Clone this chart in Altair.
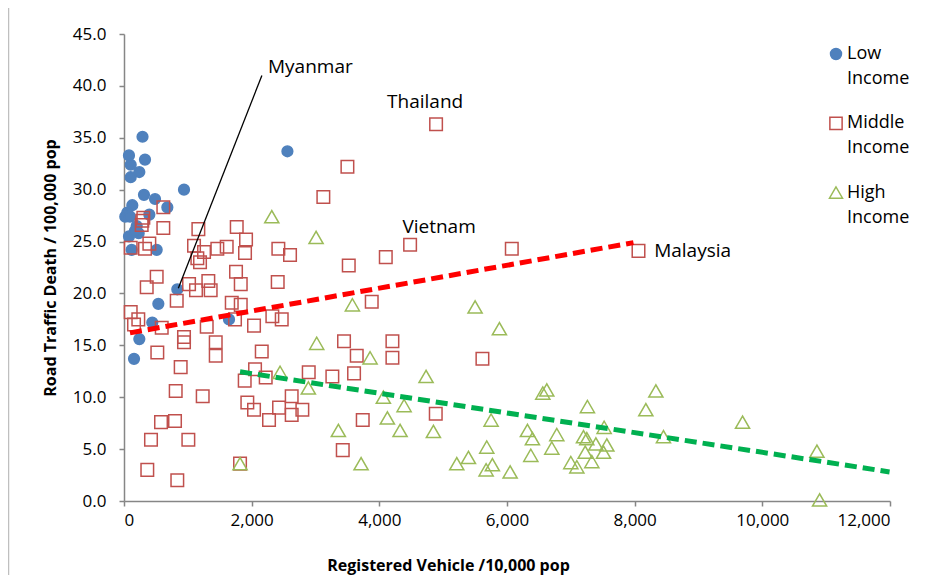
import altair as alt
import pandas as pd

# ---- data ----
low_x = [290, 78, 329, 105, 240, 105, 2560, 940, 313, 486, 130, 679, 52, 20, 94, 397, 199, 230,
         78, 120, 512, 835, 538, 443, 1645, 240, 157, 170]
low_y = [35.1, 33.3, 32.9, 32.4, 31.7, 31.2, 33.7, 30.0, 29.5, 29.1, 28.5, 28.3, 27.8, 27.4, 27.4, 27.6, 26.5, 25.8,
         25.5, 24.2, 24.2, 20.4, 19.0, 17.2, 17.5, 15.6, 13.7, 26.0]

mid_x = [4889, 3500, 3123, 616, 303, 287, 277, 616, 1165, 1766, 1912, 105, 329, 397, 1097, 1254, 1609, 1462,
         1896, 2418, 2601, 1149, 1191, 1755, 512, 1321, 1829, 356, 1019, 2408, 1128, 1358, 826, 1688, 1829,
         105, 224, 157, 591, 1296, 1739, 2037, 2324, 2471, 940, 940, 1437, 1437, 522, 2158, 888, 2053, 810,
         1233, 580, 799, 423, 1008, 365, 835, 1818, 1891, 2220, 1932, 2037, 2272, 2429, 2627, 2627, 2794,
         2894, 3264, 3604, 3427, 3521, 3646, 3740, 4482, 4101, 6075, 8060, 3881, 3447, 4205, 4205, 5615, 4884]
mid_y = [36.3, 32.2, 29.3, 28.3, 27.3, 27.0, 26.6, 26.3, 26.2, 26.4, 25.2, 24.4, 24.3, 24.8, 24.6, 24.0, 24.5, 24.3,
         23.9, 24.3, 23.7, 23.4, 23.0, 22.1, 21.6, 21.2, 20.9, 20.6, 20.9, 21.1, 20.3, 20.3, 19.3, 19.1, 18.9,
         18.2, 17.5, 17.0, 16.7, 16.8, 17.5, 16.9, 17.8, 17.5, 15.8, 15.3, 15.3, 14.0, 14.3, 14.4, 12.9, 12.7, 10.6,
         10.1, 7.6, 7.7, 5.9, 5.9, 3.0, 2.0, 3.6, 11.6, 11.9, 9.5, 8.8, 7.8, 9.0, 10.1, 8.3, 8.8,
         12.4, 12.0, 12.3, 4.9, 22.7, 14.0, 7.8, 24.7, 23.5, 24.3, 24.1, 19.2, 15.4, 15.4, 13.8, 13.7, 8.4]

high_x = [2315, 3009, 3578, 5500, 5881, 3019, 3855, 2445, 4732, 2888, 4063, 4388, 4126, 3358, 4325, 4847,
          5751, 3714, 1818, 5213, 5396, 5683, 5673, 5771, 6049, 6320, 6398, 6373, 6561, 6623, 7260, 8332,
          8175, 9690, 10855, 10897, 6780, 6702, 7000, 7094, 7198, 7250, 7225, 7329, 7392, 7522, 7564, 7512, 8451]
high_y = [27.4, 25.4, 18.9, 18.7, 16.6, 15.2, 13.8, 12.4, 12.0, 10.9, 10.0, 9.2, 8.0, 6.8, 6.8, 6.7,
          7.8, 3.6, 3.6, 3.6, 4.2, 5.2, 3.0, 3.5, 2.8, 6.8, 6.0, 4.4, 10.4, 10.7, 9.1, 10.6,
          8.8, 7.6, 4.8, 0.1, 6.4, 5.1, 3.7, 3.3, 6.2, 6.0, 4.7, 3.8, 5.5, 7.1, 5.4, 4.7, 6.2]

groups = ["Low Income", "Middle Income", "High Income"]
legend_first = ["Low", "Middle", "High"]
legend_second = ["Income", "Income", "Income"]
shapes = ["circle", "square", "triangle-up"]
fills = ["#4F81BD", "transparent", "transparent"]
strokes = ["#4F81BD", "#C0504D", "#9BBB59"]
sizes = [115, 200, 220]

# trend line end points
mid_trend_x = [94, 7981]
mid_trend_y = [16.2, 24.9]
high_trend_x = [1818, 11993]
high_trend_y = [12.45, 2.8]

# annotations
ann_left_label = ["Myanmar", "Malaysia"]
ann_left_x = [2256, 8305]
ann_left_y = [41.8, 24.1]
ann_center_label = ["Thailand", "Vietnam"]
ann_center_x = [4717, 4936]
ann_center_y = [38.4, 26.4]
myanmar_line_x = [851, 2160]
myanmar_line_y = [20.5, 41.0]

x_ticks = [0, 2000, 4000, 6000, 8000, 10000, 12000]
y_ticks = [0, 5, 10, 15, 20, 25, 30, 35, 40, 45]

FONT = "Open Sans"
W, H = 766, 467

pts = pd.concat([
    pd.DataFrame({"x": low_x, "y": low_y, "group": groups[0]}),
    pd.DataFrame({"x": mid_x, "y": mid_y, "group": groups[1]}),
    pd.DataFrame({"x": high_x, "y": high_y, "group": groups[2]}),
], ignore_index=True)

xscale = alt.Scale(domain=[0, 12000], nice=False, zero=True)
yscale = alt.Scale(domain=[0, 45], nice=False, zero=True)

xenc = alt.X("x:Q", scale=xscale, axis=alt.Axis(
    values=x_ticks, format=",d", title="Registered Vehicle /10,000 pop",
    titleX=324, titleY=64, titleBaseline="middle", titleAnchor="start", titleAlign="center",
    labelPadding=6))
yenc = alt.Y("y:Q", scale=yscale, axis=alt.Axis(
    values=y_ticks, format=".1f", title="Road Traffic Death / 100,000 pop",
    titleX=-74, titleY=233.5, titleBaseline="middle", titleAlign="center", titleAnchor="start",
    labelPadding=13))

points = alt.Chart(pts).mark_point(strokeWidth=1.5, opacity=1).encode(
    x=xenc, y=yenc,
    shape=alt.Shape("group:N", scale=alt.Scale(domain=groups, range=shapes), legend=None),
    fill=alt.Fill("group:N", scale=alt.Scale(domain=groups, range=fills), legend=None),
    stroke=alt.Stroke("group:N", scale=alt.Scale(domain=groups, range=strokes), legend=None),
    size=alt.Size("group:N", scale=alt.Scale(domain=groups, range=sizes), legend=None),
)

mid_trend = alt.Chart(pd.DataFrame({"x": mid_trend_x, "y": mid_trend_y})).mark_line(
    color="#FF0000", strokeWidth=5, strokeDash=[12, 6]).encode(x="x:Q", y="y:Q")
high_trend = alt.Chart(pd.DataFrame({"x": high_trend_x, "y": high_trend_y})).mark_line(
    color="#00B050", strokeWidth=5, strokeDash=[12, 6]).encode(x="x:Q", y="y:Q")

myan_line = alt.Chart(pd.DataFrame({"x": [myanmar_line_x[0]], "y": [myanmar_line_y[0]],
                                    "x2": [myanmar_line_x[1]], "y2": [myanmar_line_y[1]]})).mark_rule(
    color="black", strokeWidth=1.3).encode(x="x:Q", y="y:Q", x2="x2:Q", y2="y2:Q")

txt_left = alt.Chart(pd.DataFrame({"x": ann_left_x, "y": ann_left_y, "t": ann_left_label})).mark_text(
    align="left", baseline="middle", font=FONT, fontSize=19, color="black").encode(x="x:Q", y="y:Q", text="t:N")
txt_center = alt.Chart(pd.DataFrame({"x": ann_center_x, "y": ann_center_y, "t": ann_center_label})).mark_text(
    align="center", baseline="middle", font=FONT, fontSize=19, color="black").encode(x="x:Q", y="y:Q", text="t:N")

# ---- legend (drawn as a small block in the top-right corner) ----
dummy = pd.DataFrame({"k": [0]})
legend_layers = []
LEG_X, LEG_Y0, LEG_STEP, LINE_H = 712, 20, 69.3, 25
for i in range(3):
    yy = LEG_Y0 + i * LEG_STEP
    legend_layers.append(alt.Chart(dummy).mark_point(
        shape=shapes[i], fill=fills[i], stroke=strokes[i], strokeWidth=1.5, opacity=1,
        size=[120, 150, 170][i]).encode(x=alt.value(LEG_X), y=alt.value(yy)))
    legend_layers.append(alt.Chart(dummy).mark_text(
        text=legend_first[i], align="left", baseline="middle", font=FONT, fontSize=18, color="black"
    ).encode(x=alt.value(LEG_X + 11), y=alt.value(yy)))
    legend_layers.append(alt.Chart(dummy).mark_text(
        text=legend_second[i], align="left", baseline="middle", font=FONT, fontSize=18, color="black"
    ).encode(x=alt.value(LEG_X + 11), y=alt.value(yy + LINE_H)))

# faint outer frame line at the left edge of the chart area
frame = alt.Chart(dummy).mark_rule(color="#BFBFBF", strokeWidth=1.5).encode(
    x=alt.value(-115.5), y=alt.value(-34), y2=alt.value(H + 82))

chart = alt.layer(points, mid_trend, high_trend, myan_line, txt_left, txt_center, frame,
                  *legend_layers).properties(
    width=W, height=H,
    padding={"left": 116, "top": 26, "right": 41, "bottom": 74},
    autosize=alt.AutoSizeParams(type="none"),
).configure_view(stroke=None).configure_axis(
    grid=False, domainColor="#868686", tickColor="#868686", domainWidth=1.5, tickWidth=1.5, tickSize=5,
    labelFont=FONT, labelFontSize=17, labelColor="black",
    titleFont=FONT, titleFontSize=16, titleFontWeight="bold", titleColor="black",
)

chart.save("out.html", embed_options={"renderer": "svg", "actions": False})
